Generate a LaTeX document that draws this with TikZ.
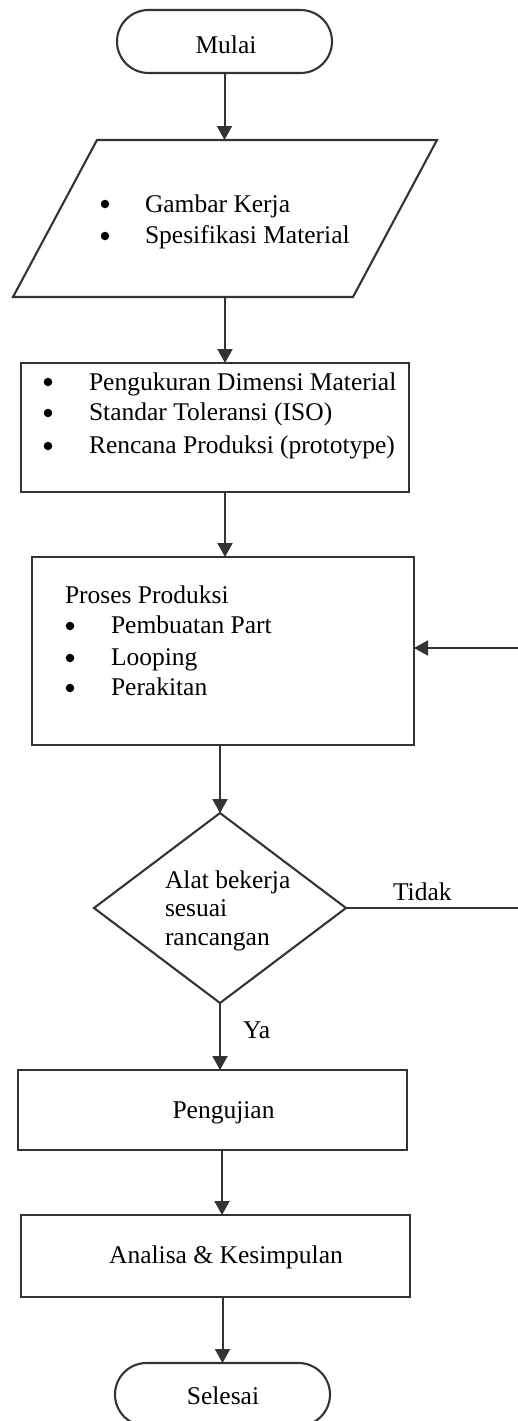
\documentclass[tikz,border=0pt]{standalone}
\usepackage{fontspec}
\setmainfont{Liberation Serif}
\usetikzlibrary{arrows.meta}
\begin{document}
\begin{tikzpicture}[x=1pt,y=-1pt,
  box/.style={draw=black!80, line width=2.1pt, inner sep=0pt, outer sep=0pt},
  ghost/.style={inner sep=0pt, outer sep=0pt},
  outline/.style={draw=black!80, line width=2.1pt, line join=miter},
  txt/.style={inner sep=0pt, outer sep=0pt, font=\fontsize{25.5}{30}\selectfont, text=black},
  bul/.style={circle, fill=black, inner sep=0pt, outer sep=0pt, minimum size=8.5pt},
  arr/.style={draw=black!80, line width=2pt, -{Triangle[width=15pt,length=14pt]}},
  feed/.style={draw=black!80, line width=2pt, -{Triangle[width=15pt,length=14pt]}},
]
\useasboundingbox (0,0) rectangle (518,1421);

% Mulai
\node[box, rounded corners=31.5pt, minimum width=215pt, minimum height=63pt] (start) at (224.5,41.5) {};
\node[txt, anchor=base] at (226,53) {Mulai};

% input parallelogram
\node[ghost, minimum width=424pt, minimum height=157pt] (in) at (225,218.5) {};
\draw[outline] ([xshift=84pt]in.north west) -- (in.north east) -- ([xshift=-84pt]in.south east) -- (in.south west) -- cycle;
\node[bul] at (105,204) {};
\node[txt, anchor=base west] at (145,212) {Gambar Kerja};
\node[bul] at (105,236) {};
\node[txt, anchor=base west] at (145,243) {Spesifikasi Material};

% box 2
\node[box, minimum width=388pt, minimum height=129pt] (b2) at (215,427.5) {};
\node[bul] at (48,382) {};
\node[txt, anchor=base west] at (89,390) {Pengukuran Dimensi Material};
\node[bul] at (48,413) {};
\node[txt, anchor=base west] at (89,420) {Standar Toleransi (ISO)};
\node[bul] at (48,446) {};
\node[txt, anchor=base west] at (89,453) {Rencana Produksi (prototype)};

% box 3
\node[box, minimum width=382pt, minimum height=188pt] (b3) at (223,651) {};
\node[txt, anchor=base west] at (65,603) {Proses Produksi};
\node[bul] at (70,626) {};
\node[txt, anchor=base west] at (111,633) {Pembuatan Part};
\node[bul] at (70,658) {};
\node[txt, anchor=base west] at (111,665) {Looping};
\node[bul] at (70,688) {};
\node[txt, anchor=base west] at (111,695) {Perakitan};

% decision
\node[ghost, minimum width=252pt, minimum height=190pt] (d) at (220,908) {};
\draw[outline] (d.north) -- (d.east) -- (d.south) -- (d.west) -- cycle;
\node[txt, anchor=base west] at (165,888) {Alat bekerja};
\node[txt, anchor=base west] at (165,916) {sesuai};
\node[txt, anchor=base west] at (165,945) {rancangan};

% Pengujian
\node[box, minimum width=389pt, minimum height=80pt] (t1) at (212.5,1110) {};
\node[txt, anchor=base] at (223.5,1118) {Pengujian};

% Analisa
\node[box, minimum width=389pt, minimum height=82pt] (t2) at (215.5,1256) {};
\node[txt, anchor=base] at (226,1263) {Analisa \& Kesimpulan};

% Selesai
\node[box, rounded corners=31.5pt, minimum width=215pt, minimum height=63pt] (end) at (222.5,1394.5) {};
\node[txt, anchor=base] at (223,1404) {Selesai};

% labels
\node[txt, anchor=base west] (tidak) at (393,900) {Tidak};
\node[txt, anchor=base west] (ya) at (243,1038) {Ya};

% connectors
\draw[arr] (start.south) -- (start.south |- in.north);
\draw[arr] (in.south) -- (in.south |- b2.north);
\draw[arr] (in.south |- b2.south) -- (in.south |- b3.north);
\draw[arr] (d.north |- b3.south) -- (d.north);
\draw[arr] (d.south) -- (d.south |- t1.north);
\draw[arr] ([xshift=2pt]d.south |- t1.south) -- ([xshift=2pt]d.south |- t2.north);
\draw[arr] (end.north |- t2.south) -- (end.north);
\coordinate (loopR) at (534,908);
\draw[feed] (d.east) -- (loopR) -- (loopR |- 0,648) -- (b3.east |- 0,648);
\end{tikzpicture}
\end{document}
